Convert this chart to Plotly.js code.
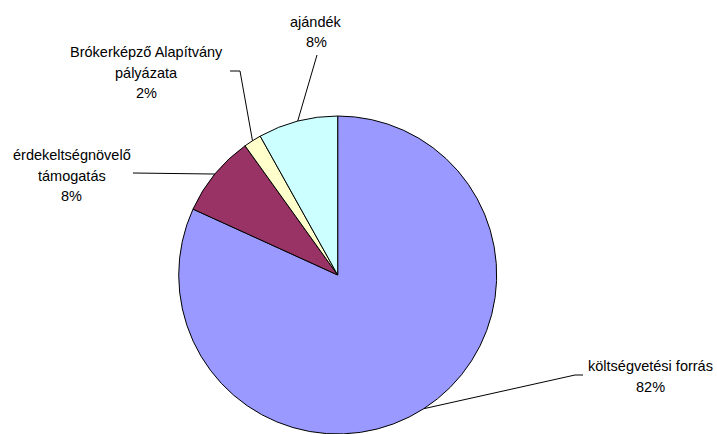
<!DOCTYPE html>
<html>
<head>
<meta charset="utf-8">
<script src="https://cdn.plot.ly/plotly-3.0.1.min.js"></script>
<style>html,body{margin:0;padding:0;background:#fff;}#chart{width:717px;height:434px;}</style>
</head>
<body>
<div id="chart"></div>
<script>
// ---- data ----
const categories = ["költségvetési forrás", "érdekeltségnövelő támogatás", "Brókerképző Alapítvány pályázata", "ajándék"];
const values = [81.8, 8.3, 1.8, 8.1];
const percentLabels = ["82%", "8%", "2%", "8%"];
const labelLines = [
  ["költségvetési forrás", "82%"],
  ["érdekeltségnövelő", "támogatás", "8%"],
  ["Brókerképző Alapítvány", "pályázata", "2%"],
  ["ajándék", "8%"]
];
const colors = ["#9999FF", "#993366", "#FFFFCC", "#CCFFFF"];

// ---- layout constants (pixels) ----
const W = 717, H = 434;
const R = 159;            // pie radius
const CX = 337.7;         // pie centre x
const CY = H - R;         // pie centre y (domain starts at bottom)
const FONT = 14.5, LINE = 20.5;
// label text block centres (x, first line y) and elbow/start points of leader lines
const labelPos = [
  {x: 650.5, y: 366, path: [[583, 375], [575, 375]]},
  {x: 71.5, y: 155, path: [[133, 173]]},
  {x: 146, y: 52.3, path: [[230, 71], [240, 71]]},
  {x: 316, y: 21.7, path: [[317, 55]]}
];

const px = x => x / W;
const py = y => 1 - y / H;

// slice mid-angles -> anchor points on the pie edge
const total = values.reduce((a, b) => a + b, 0);
let cum = 0;
const anchors = values.map(v => {
  const mid = (cum + v / 2) / total * 2 * Math.PI; // clockwise from 12 o'clock
  cum += v;
  return [CX + R * Math.sin(mid), CY - R * Math.cos(mid)];
});

const shapes = [];
const annotations = [];
labelPos.forEach((lp, i) => {
  const pts = lp.path.concat([anchors[i]]);
  let d = "";
  pts.forEach((p, k) => { d += (k ? " L " : "M ") + px(p[0]) + " " + py(p[1]); });
  shapes.push({type: "path", xref: "paper", yref: "paper", path: d, line: {color: "#000", width: 1}});
  labelLines[i].forEach((t, k) => {
    annotations.push({
      text: t, xref: "paper", yref: "paper",
      x: px(lp.x), y: py(lp.y + k * LINE),
      xanchor: "center", yanchor: "middle", showarrow: false,
      font: {family: "Liberation Sans, Arial, sans-serif", size: FONT, color: "#000"}
    });
  });
});

const trace = {
  type: "pie",
  labels: categories,
  values: values,
  sort: false,
  direction: "clockwise",
  rotation: 0,
  textinfo: "none",
  hoverinfo: "label+percent",
  marker: {colors: colors, line: {color: "#000", width: 1}},
  domain: {x: [(CX - R) / W, (CX + R) / W], y: [0, 2 * R / H]},
  showlegend: false
};

Plotly.newPlot("chart", [trace], {
  width: W, height: H,
  margin: {l: 0, r: 0, t: 0, b: 0},
  paper_bgcolor: "#fff",
  showlegend: false,
  shapes: shapes,
  annotations: annotations
}, {staticPlot: true});
</script>
</body>
</html>
